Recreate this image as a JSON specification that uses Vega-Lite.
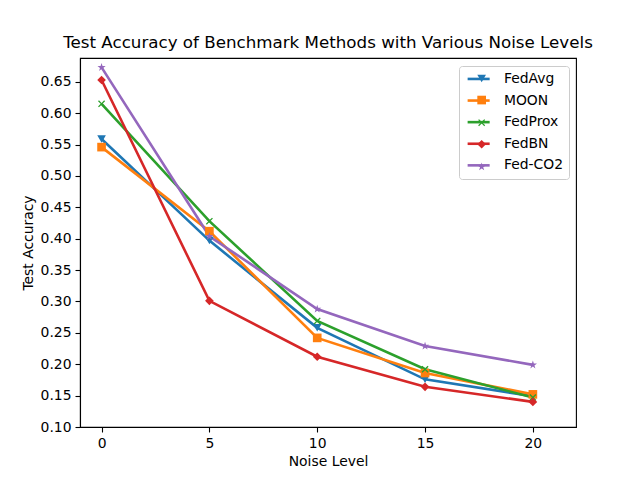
{
  "$schema": "https://vega.github.io/schema/vega-lite/v6.json",
  "width": 496,
  "height": 369,
  "autosize": {"type": "none"},
  "padding": {"left": 80, "top": 58, "right": 64, "bottom": 53},
  "background": "white",
  "config": {
    "font": "DejaVu Sans",
    "view": {"stroke": "black", "strokeWidth": 1.1},
    "axis": {
      "grid": false,
      "domainColor": "black",
      "domainWidth": 1.1,
      "tickColor": "black",
      "tickWidth": 1.1,
      "tickSize": 5,
      "labelColor": "black",
      "labelFont": "DejaVu Sans",
      "labelFontSize": 13.9,
      "labelPadding": 4,
      "titleColor": "black",
      "titleFont": "DejaVu Sans",
      "titleFontSize": 13.9,
      "titleFontWeight": "normal"
    }
  },
  "title": {
    "text": "Test Accuracy of Benchmark Methods with Various Noise Levels",
    "font": "DejaVu Sans",
    "fontSize": 16.7,
    "fontWeight": "normal",
    "color": "black",
    "anchor": "middle",
    "baseline": "alphabetic",
    "offset": 9,
    "dy": 16
  },
  "data": {
    "values": [
      {"method": "FedAvg", "series": "FedAvg", "noise": 0, "acc": 0.559},
      {"method": "FedAvg", "series": "FedAvg", "noise": 5, "acc": 0.397},
      {"method": "FedAvg", "series": "FedAvg", "noise": 10, "acc": 0.258},
      {"method": "FedAvg", "series": "FedAvg", "noise": 15, "acc": 0.176},
      {"method": "FedAvg", "series": "FedAvg", "noise": 20, "acc": 0.149},
      {"method": "MOON", "series": "MOON", "noise": 0, "acc": 0.546},
      {"method": "MOON", "series": "MOON", "noise": 5, "acc": 0.412},
      {"method": "MOON", "series": "MOON", "noise": 10, "acc": 0.242},
      {"method": "MOON", "series": "MOON", "noise": 15, "acc": 0.186},
      {"method": "MOON", "series": "MOON", "noise": 20, "acc": 0.152},
      {"method": "FedProx", "series": "FedProx", "noise": 0, "acc": 0.615},
      {"method": "FedProx", "series": "FedProx", "noise": 5, "acc": 0.428},
      {"method": "FedProx", "series": "FedProx", "noise": 10, "acc": 0.269},
      {"method": "FedProx", "series": "FedProx", "noise": 15, "acc": 0.192},
      {"method": "FedProx", "series": "FedProx", "noise": 20, "acc": 0.147},
      {"method": "FedBN", "series": "FedBN", "noise": 0, "acc": 0.653},
      {"method": "FedBN", "series": "FedBN", "noise": 5, "acc": 0.301},
      {"method": "FedBN", "series": "FedBN", "noise": 10, "acc": 0.212},
      {"method": "FedBN", "series": "FedBN", "noise": 15, "acc": 0.164},
      {"method": "FedBN", "series": "FedBN", "noise": 20, "acc": 0.140},
      {"method": "Fed-CO2", "series": "Fed-CO2", "noise": 0, "acc": 0.673},
      {"method": "Fed-CO2", "series": "Fed-CO2", "noise": 5, "acc": 0.404},
      {"method": "Fed-CO2", "series": "Fed-CO2", "noise": 10, "acc": 0.288},
      {"method": "Fed-CO2", "series": "Fed-CO2", "noise": 15, "acc": 0.229},
      {"method": "Fed-CO2", "series": "Fed-CO2", "noise": 20, "acc": 0.199}
    ]
  },
  "encoding": {
    "x": {
      "field": "noise",
      "type": "quantitative",
      "title": "Noise Level",
      "scale": {"domain": [-1, 22], "nice": false, "zero": false},
      "axis": {"values": [0, 5, 10, 15, 20], "titlePadding": 5}
    },
    "y": {
      "field": "acc",
      "type": "quantitative",
      "title": "Test Accuracy",
      "scale": {"domain": [0.1, 0.688], "nice": false, "zero": false},
      "axis": {
        "values": [0.1, 0.15, 0.2, 0.25, 0.3, 0.35, 0.4, 0.45, 0.5, 0.55, 0.6, 0.65],
        "format": ".2f",
        "titlePadding": 5
      }
    }
  },
  "layer": [
    {
      "mark": {"type": "line", "strokeWidth": 2.6},
      "encoding": {
        "stroke": {
          "field": "series",
          "type": "nominal",
          "scale": {
            "domain": ["FedAvg", "MOON", "FedProx", "FedBN", "Fed-CO2"],
            "range": ["#1f77b4", "#ff7f0e", "#2ca02c", "#d62728", "#9467bd"]
          },
          "legend": {
            "title": null,
            "orient": "top-right",
            "offset": 7.5,
            "zindex": 1,
            "padding": 6,
            "cornerRadius": 3,
            "strokeColor": "#cccccc",
            "fillColor": "rgba(255,255,255,0.8)",
            "symbolType": "M-1,0L4.09,0",
            "symbolSize": 121,
            "symbolStrokeWidth": 2.6,
            "labelFont": "DejaVu Sans",
            "labelFontSize": 13.9,
            "labelColor": "black",
            "labelOffset": 25,
            "rowPadding": 6.6
          }
        }
      }
    },
    {
      "mark": {"type": "point", "filled": true, "opacity": 1},
      "encoding": {
        "color": {
          "field": "method",
          "type": "nominal",
          "scale": {
            "domain": ["FedAvg", "MOON", "FedProx", "FedBN", "Fed-CO2"],
            "range": ["#1f77b4", "#ff7f0e", "#2ca02c", "#d62728", "#9467bd"]
          },
          "legend": {
            "title": null,
            "orient": "none",
            "legendX": 388.7,
            "legendY": 7.5,
            "zindex": 2,
            "padding": 6,
            "strokeColor": null,
            "fillColor": null,
            "symbolSize": 110,
            "symbolOpacity": 1,
            "labelFontSize": 13.9,
            "labelColor": "transparent",
            "rowPadding": 6.6
          }
        },
        "shape": {
          "field": "method",
          "type": "nominal",
          "scale": {
            "domain": ["FedAvg", "MOON", "FedProx", "FedBN", "Fed-CO2"],
            "range": [
              "triangle-down",
              "square",
              "M0.813,-0.601L0.212,0L0.813,0.601L0.601,0.813L0,0.212L-0.601,0.813L-0.813,0.601L-0.212,0L-0.813,-0.601L-0.601,-0.813L0,-0.212L0.601,-0.813Z",
              "diamond",
              "M0,-1L0.225,-0.309L0.951,-0.309L0.363,0.118L0.588,0.809L0,0.382L-0.588,0.809L-0.363,0.118L-0.951,-0.309L-0.225,-0.309Z"
            ]
          },
          "legend": {
            "title": null,
            "orient": "none",
            "legendX": 388.7,
            "legendY": 7.5,
            "zindex": 2,
            "padding": 6,
            "strokeColor": null,
            "fillColor": null,
            "symbolOpacity": 0,
            "labelColor": "transparent",
            "rowPadding": 6.6
          }
        },
        "size": {
          "field": "method",
          "type": "nominal",
          "scale": {
            "domain": ["FedAvg", "MOON", "FedProx", "FedBN", "Fed-CO2"],
            "range": [75, 75, 80, 130, 115]
          },
          "legend": null
        }
      }
    }
  ]
}
